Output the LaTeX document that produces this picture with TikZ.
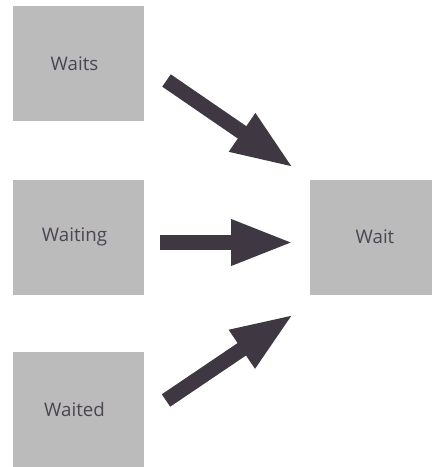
\documentclass[tikz,border=0pt]{standalone}
\usepackage{fontspec}
\setmainfont{Open Sans}
\usetikzlibrary{arrows.meta}
\definecolor{boxgray}{HTML}{BBBBBB}
\definecolor{inkgray}{HTML}{4B4552}
\definecolor{arrowdark}{HTML}{3F3843}
\tikzset{
  x=1pt, y=-1pt,
  wordbox/.style={rectangle, fill=boxgray, draw=none, inner sep=0pt,
    minimum height=115pt},
  wordtext/.style={text=inkgray, inner sep=0pt,
    font=\fontsize{18.7}{22}\selectfont},
  fatarrow/.style={draw=arrowdark, line width=15pt,
    -{Triangle[width=42pt,length=63pt]}, fill=arrowdark}
}
\begin{document}
\begin{tikzpicture}
\useasboundingbox (0,0) rectangle (432,467);
% source words on the left
\node[wordbox, minimum width=131pt, label={[wordtext, xshift=-4pt]center:Waits}]   (waits)   at (78.5,63.5) {};
\node[wordbox, minimum width=131pt, label={[wordtext, xshift=-4pt]center:Waiting}] (waiting) at (78.5,237)  {};
\node[wordbox, minimum width=131pt, label={[wordtext, xshift=-4pt]center:Waited}]  (waited)  at (78.5,409)  {};
% base form on the right
\node[wordbox, minimum width=122pt, label={[wordtext, xshift=4pt]center:Wait}]     (wait)    at (371,237)   {};
% arrow ends
\coordinate (s1) at (166.5,80.5);
\coordinate (e1) at (294,168);
\coordinate (s2) at (160,242.5);
\coordinate (e2) at (294,242.5);
\coordinate (s3) at (166,400.5);
\coordinate (e3) at (294,314);
\draw[fatarrow] (s1) -- (e1);
\draw[fatarrow] (s2) -- (e2);
\draw[fatarrow] (s3) -- (e3);
\end{tikzpicture}
\end{document}
